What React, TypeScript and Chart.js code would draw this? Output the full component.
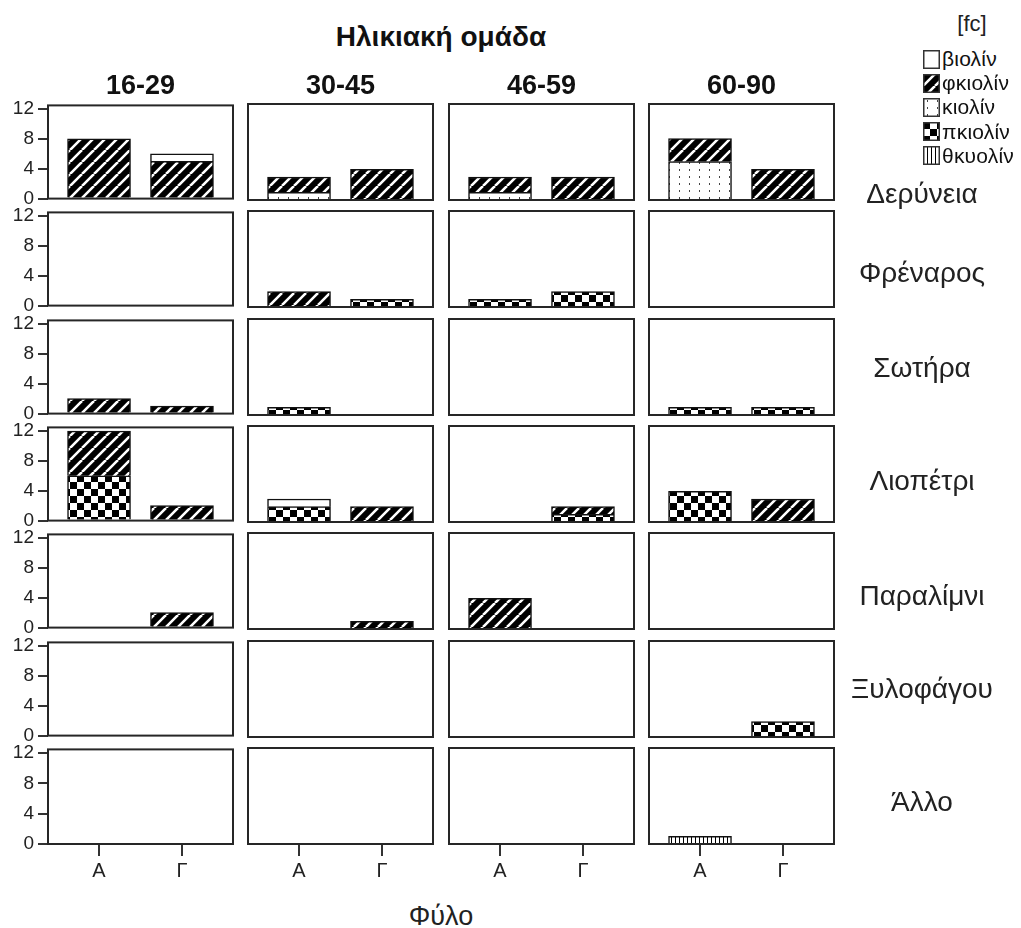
import React, { useEffect, useRef } from 'react';
import { Chart, registerables } from 'chart.js';

Chart.register(...registerables);

// ---- data ----
const regions = ['Δερύνεια', 'Φρέναρος', 'Σωτήρα', 'Λιοπέτρι', 'Παραλίμνι', 'Ξυλοφάγου', 'Άλλο'];
const ageGroups = ['16-29', '30-45', '46-59', '60-90'];
const sexes = ['A', 'Γ'];
const yTickValues = [0, 4, 8, 12];
const seriesNames = ['βιολίν', 'φκιολίν', 'κιολίν', 'πκιολίν', 'θκυολίν'];

// counts[region][ageGroup] = [A, Γ]
const biolin = [
  [[0, 1], [0, 0], [0, 0], [0, 0]],
  [[0, 0], [0, 0], [0, 0], [0, 0]],
  [[0, 0], [0, 0], [0, 0], [0, 0]],
  [[0, 0], [1, 0], [0, 0], [0, 0]],
  [[0, 0], [0, 0], [0, 0], [0, 0]],
  [[0, 0], [0, 0], [0, 0], [0, 0]],
  [[0, 0], [0, 0], [0, 0], [0, 0]],
];
const fkiolin = [
  [[8, 5], [2, 4], [2, 3], [3, 4]],
  [[0, 0], [2, 0], [0, 0], [0, 0]],
  [[2, 1], [0, 0], [0, 0], [0, 0]],
  [[6, 2], [0, 2], [0, 1], [0, 3]],
  [[0, 2], [0, 1], [4, 0], [0, 0]],
  [[0, 0], [0, 0], [0, 0], [0, 0]],
  [[0, 0], [0, 0], [0, 0], [0, 0]],
];
const kiolin = [
  [[0, 0], [1, 0], [1, 0], [5, 0]],
  [[0, 0], [0, 0], [0, 0], [0, 0]],
  [[0, 0], [0, 0], [0, 0], [0, 0]],
  [[0, 0], [0, 0], [0, 0], [0, 0]],
  [[0, 0], [0, 0], [0, 0], [0, 0]],
  [[0, 0], [0, 0], [0, 0], [0, 0]],
  [[0, 0], [0, 0], [0, 0], [0, 0]],
];
const pkiolin = [
  [[0, 0], [0, 0], [0, 0], [0, 0]],
  [[0, 0], [0, 1], [1, 2], [0, 0]],
  [[0, 0], [1, 0], [0, 0], [1, 1]],
  [[6, 0], [2, 0], [0, 1], [4, 0]],
  [[0, 0], [0, 0], [0, 0], [0, 0]],
  [[0, 0], [0, 0], [0, 0], [0, 2]],
  [[0, 0], [0, 0], [0, 0], [0, 0]],
];
const thkyolin = [
  [[0, 0], [0, 0], [0, 0], [0, 0]],
  [[0, 0], [0, 0], [0, 0], [0, 0]],
  [[0, 0], [0, 0], [0, 0], [0, 0]],
  [[0, 0], [0, 0], [0, 0], [0, 0]],
  [[0, 0], [0, 0], [0, 0], [0, 0]],
  [[0, 0], [0, 0], [0, 0], [0, 0]],
  [[0, 0], [0, 0], [0, 0], [1, 0]],
];
const seriesValues = [biolin, fkiolin, kiolin, pkiolin, thkyolin];

// ---- layout ----
const FONT = '"Liberation Sans", Arial, sans-serif';
const PANEL_W = 185;
const PANEL_H = 96;
const PAD = 14;
const Y_AXIS_W = 48;
const X_AXIS_H = 45;
const colLeft = (c: number) => 48 + Math.round(c * 200.33);
const rowTop = (r: number) => 104 + Math.round(r * 107.33);
const rowLabelBaselines = [204, 283, 378, 491, 606, 699, 812];

type TileKind = 'white' | 'diag' | 'dots' | 'checker' | 'vlines';
const seriesTiles: TileKind[] = ['white', 'diag', 'dots', 'checker', 'vlines'];

function makeTile(kind: TileKind): HTMLCanvasElement {
  const sizes: Record<TileKind, [number, number]> = {
    white: [4, 4],
    diag: [12, 12],
    dots: [10, 7],
    checker: [14, 14],
    vlines: [4, 4],
  };
  const [w, h] = sizes[kind];
  const cv = document.createElement('canvas');
  cv.width = w;
  cv.height = h;
  const g = cv.getContext('2d')!;
  g.fillStyle = '#fff';
  g.fillRect(0, 0, w, h);
  if (kind === 'diag') {
    g.fillStyle = '#000';
    g.fillRect(0, 0, w, h);
    g.strokeStyle = '#fff';
    g.lineWidth = 2.6;
    g.beginPath();
    for (const k of [-1, 0, 1]) {
      g.moveTo(k * w, h);
      g.lineTo(k * w + w, 0);
    }
    g.stroke();
  } else if (kind === 'dots') {
    g.fillStyle = '#444';
    g.fillRect(4, 2, 1, 2);
  } else if (kind === 'checker') {
    g.fillStyle = '#000';
    g.fillRect(0, 0, 7, 7);
    g.fillRect(7, 7, 7, 7);
  } else if (kind === 'vlines') {
    g.fillStyle = '#000';
    g.fillRect(0, 0, 1, h);
  }
  return cv;
}

// panel frame drawn around every plot area
const framePlugin = {
  id: 'panelFrame',
  afterDatasetsDraw(chart: any) {
    const { ctx, chartArea } = chart;
    const { left, top, right, bottom } = chartArea;
    ctx.save();
    ctx.strokeStyle = '#262626';
    ctx.lineWidth = 2;
    ctx.strokeRect(left, top, right - left, bottom - top);
    ctx.restore();
  },
};

type Cell = { r: number; c: number; left: number; top: number; width: number; height: number };
const cells: Cell[] = [];
regions.forEach((_, r) => {
  ageGroups.forEach((__, c) => {
    const extraLeft = c === 0 ? PAD + Y_AXIS_W : PAD;
    const extraBottom = r === regions.length - 1 ? X_AXIS_H + 2 : PAD;
    cells.push({
      r,
      c,
      left: colLeft(c) - extraLeft,
      top: rowTop(r) - PAD,
      width: extraLeft + PANEL_W + PAD,
      height: PAD + PANEL_H + extraBottom,
    });
  });
});

export default function App() {
  const canvasRefs = useRef<(HTMLCanvasElement | null)[]>([]);
  const swatchRefs = useRef<(HTMLCanvasElement | null)[]>([]);

  useEffect(() => {
    Chart.defaults.font.family = FONT;
    const tiles = seriesTiles.map(makeTile);
    const charts: Chart[] = [];

    cells.forEach((cell, idx) => {
      const canvas = canvasRefs.current[idx];
      if (!canvas) return;
      const ctx = canvas.getContext('2d')!;
      const patterns = tiles.map((t) => ctx.createPattern(t, 'repeat'));
      const { r, c } = cell;
      const isBottom = r === regions.length - 1;
      const isFirst = c === 0;

      // stacked bottom-up in reverse legend order
      const datasets = [4, 3, 2, 1, 0].map((s) => ({
        label: seriesNames[s],
        data: sexes.map((_, i) => ({ x: i, y: seriesValues[s][r][c][i] || null })),
        backgroundColor: patterns[s] as any,
        borderColor: '#111',
        borderWidth: 1.5,
        barThickness: 63,
      }));

      charts.push(
        new Chart(canvas, {
          type: 'bar',
          data: { datasets },
          plugins: [framePlugin],
          options: {
            animation: false,
            responsive: false,
            devicePixelRatio: 1,
            events: [],
            layout: { padding: { left: PAD, right: PAD, top: PAD, bottom: isBottom ? 2 : PAD } },
            plugins: { legend: { display: false }, tooltip: { enabled: false } },
            scales: {
              x: {
                type: 'linear',
                stacked: true,
                offset: false,
                min: -0.615,
                max: 1.615,
                display: isBottom,
                afterBuildTicks: (s: any) => {
                  s.ticks = sexes.map((_, i) => ({ value: i }));
                },
                afterFit: (s: any) => {
                  s.height = isBottom ? X_AXIS_H : 0;
                },
                grid: {
                  offset: false,
                  drawOnChartArea: false,
                  drawTicks: true,
                  tickLength: 12,
                  lineWidth: 2,
                  color: '#333',
                },
                border: { display: false },
                ticks: {
                  callback: (v: any) => sexes[v] ?? '',
                  font: { size: 20, family: FONT },
                  color: '#222',
                  padding: 3,
                  maxRotation: 0,
                  autoSkip: false,
                },
              },
              y: {
                type: 'linear',
                stacked: true,
                min: 0,
                max: 12.5,
                display: isFirst,
                afterBuildTicks: (s: any) => {
                  s.ticks = yTickValues.map((v) => ({ value: v }));
                },
                afterFit: (s: any) => {
                  s.width = isFirst ? Y_AXIS_W : 0;
                },
                grid: { drawOnChartArea: false, drawTicks: true, tickLength: 10, lineWidth: 2, color: '#333' },
                border: { display: false },
                ticks: { font: { size: 19, family: FONT }, color: '#222', padding: 4 },
              },
            },
          } as any,
        })
      );
    });

    // legend swatches
    swatchRefs.current.forEach((sw, i) => {
      if (!sw) return;
      const g = sw.getContext('2d')!;
      g.fillStyle = g.createPattern(tiles[i], 'repeat')!;
      g.fillRect(0, 0, sw.width, sw.height);
      g.strokeStyle = '#333';
      g.lineWidth = 1.5;
      g.strokeRect(0.75, 0.75, sw.width - 1.5, sw.height - 1.5);
    });

    return () => charts.forEach((ch) => ch.destroy());
  }, []);

  const text = (fs: number, baseline: number, extra: React.CSSProperties = {}): React.CSSProperties => ({
    position: 'absolute',
    fontFamily: FONT,
    fontSize: fs,
    lineHeight: `${fs}px`,
    top: baseline - 0.8465 * fs,
    whiteSpace: 'nowrap',
    color: '#111',
    ...extra,
  });

  return (
    <div
      style={{
        position: 'absolute',
        left: 0,
        top: 0,
        width: 1021,
        height: 928,
        background: '#fff',
        overflow: 'hidden',
      }}
    >
      {cells.map((cell, idx) => (
        <canvas
          key={idx}
          ref={(el) => {
            canvasRefs.current[idx] = el;
          }}
          width={cell.width}
          height={cell.height}
          style={{
            position: 'absolute',
            left: cell.left,
            top: cell.top,
            width: cell.width,
            height: cell.height,
          }}
        />
      ))}

      <div style={text(28, 47, { left: 241, width: 400, textAlign: 'center', fontWeight: 'bold' })}>
        Ηλικιακή ομάδα
      </div>

      {ageGroups.map((g, c) => (
        <div
          key={g}
          style={text(27, 95, {
            left: colLeft(c),
            width: PANEL_W,
            textAlign: 'center',
            fontWeight: 'bold',
          })}
        >
          {g}
        </div>
      ))}

      {regions.map((name, r) => (
        <div
          key={name}
          style={text(28, rowLabelBaselines[r], { left: 822, width: 200, textAlign: 'center', color: '#222' })}
        >
          {name}
        </div>
      ))}

      <div style={text(27, 926, { left: 241, width: 400, textAlign: 'center', color: '#222' })}>Φύλο</div>

      <div style={text(22, 32, { left: 922, width: 100, textAlign: 'center', color: '#222' })}>[fc]</div>

      {seriesNames.map((name, i) => {
        const cy = 59 + i * 24.2;
        return (
          <React.Fragment key={name}>
            <canvas
              ref={(el) => {
                swatchRefs.current[i] = el;
              }}
              width={17}
              height={19}
              style={{ position: 'absolute', left: 923, top: Math.round(cy - 9.5), width: 17, height: 19 }}
            />
            <div
              style={{
                position: 'absolute',
                left: 942,
                top: cy - 12,
                height: 24,
                lineHeight: '24px',
                fontFamily: FONT,
                fontSize: 21,
                letterSpacing: '0.2px',
                color: '#111',
                whiteSpace: 'nowrap',
              }}
            >
              {name}
            </div>
          </React.Fragment>
        );
      })}
    </div>
  );
}
